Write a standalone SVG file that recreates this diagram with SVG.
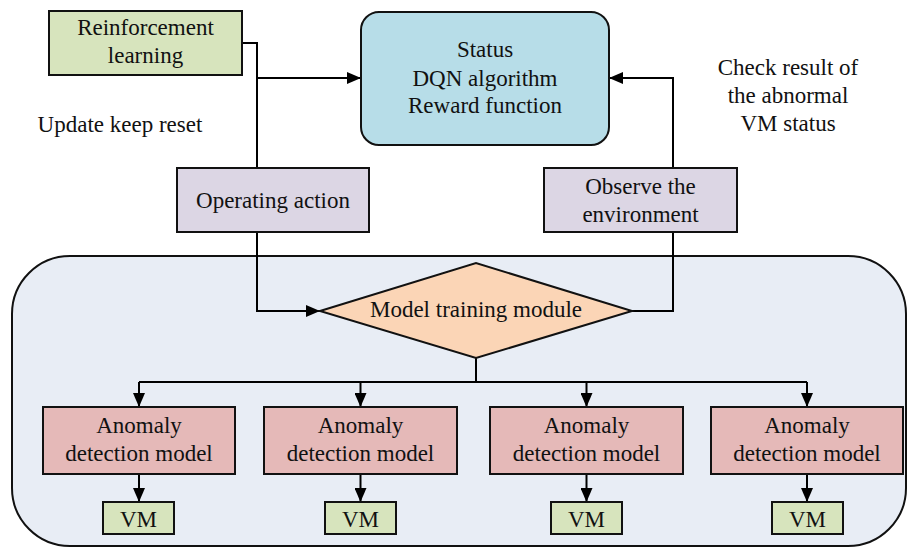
<svg xmlns="http://www.w3.org/2000/svg" width="909" height="548" viewBox="0 0 909 548">
<defs>
<marker id="ah" viewBox="0 0 14 12" refX="14" refY="6" markerWidth="14" markerHeight="12" markerUnits="userSpaceOnUse" orient="auto">
<path d="M0,0 L14,6 L0,12 Z" fill="#000"/>
</marker>
<style>
text{font-family:'Liberation Serif','DejaVu Serif',serif;font-size:23px;fill:#111;text-anchor:middle}
.b{stroke:#111;stroke-width:2}
.c{fill:none;stroke:#000;stroke-width:2}
.a{marker-end:url(#ah)}
.g{fill:#d7e4bd}
.p{fill:#dcd6e4}
.r{fill:#e5b9b8}
</style>
</defs>
<g id="container"><rect x="12" y="256" width="894" height="290" rx="58" ry="58" fill="#e8edf5" class="b"/></g>
<g id="connectors">
<polyline class="c" points="242,43 257,43 257,168"/>
<line class="c a" x1="257" y1="78" x2="361" y2="78"/>
<polyline class="c a" points="257,232 257,311 320,311"/>
<polyline class="c a" points="632,311 673,311 673,78 609,78"/>
<line class="c" x1="476" y1="358" x2="476" y2="383" stroke-width="3"/>
<polyline class="c" points="139,382 807,382"/>
<line class="c a" x1="139" y1="382" x2="139" y2="407"/>
<line class="c a" x1="360.5" y1="382" x2="360.5" y2="407"/>
<line class="c a" x1="586.5" y1="382" x2="586.5" y2="407"/>
<line class="c a" x1="807" y1="382" x2="807" y2="407"/>
<line class="c a" x1="139" y1="474" x2="139" y2="502"/>
<line class="c a" x1="360.5" y1="474" x2="360.5" y2="502"/>
<line class="c a" x1="586.5" y1="474" x2="586.5" y2="502"/>
<line class="c a" x1="807" y1="474" x2="807" y2="502"/>
</g>
<g id="rl"><rect x="49" y="11" width="193" height="64" class="b g"/><text x="145.5" y="35">Reinforcement</text><text x="145.5" y="63">learning</text></g>
<g id="status"><rect x="361" y="12" width="248" height="133" rx="18" ry="18" fill="#b7dde8" class="b"/><text x="485" y="57">Status</text><text x="485" y="86">DQN algorithm</text><text x="485" y="113">Reward function</text></g>
<g id="update-label"><text x="120" y="132">Update keep reset</text></g>
<g id="check-label"><text x="788" y="75">Check result of</text><text x="788" y="103">the abnormal</text><text x="788" y="131">VM status</text></g>
<g id="operating"><rect x="177" y="168" width="192" height="64" class="b p"/><text x="273" y="208">Operating action</text></g>
<g id="observe"><rect x="544" y="168" width="193" height="64" class="b p"/><text x="640.5" y="194">Observe the</text><text x="640.5" y="222">environment</text></g>
<g id="training"><polygon points="320,311 476,263 632,311 476,358" fill="#fbd5b6" class="b"/><text x="476" y="317">Model training module</text></g>
<g id="adm1"><rect x="43" y="407" width="192" height="67" class="b r"/><text x="139" y="433">Anomaly</text><text x="139" y="461">detection model</text></g>
<g id="adm2"><rect x="264" y="407" width="193" height="67" class="b r"/><text x="360.5" y="433">Anomaly</text><text x="360.5" y="461">detection model</text></g>
<g id="adm3"><rect x="490" y="407" width="193" height="67" class="b r"/><text x="586.5" y="433">Anomaly</text><text x="586.5" y="461">detection model</text></g>
<g id="adm4"><rect x="711" y="407" width="192" height="67" class="b r"/><text x="807" y="433">Anomaly</text><text x="807" y="461">detection model</text></g>
<g id="vm1"><rect x="103" y="502" width="71" height="32" class="b g"/><text x="138.5" y="527">VM</text></g>
<g id="vm2"><rect x="325" y="502" width="71" height="32" class="b g"/><text x="360.5" y="527">VM</text></g>
<g id="vm3"><rect x="551" y="502" width="71" height="32" class="b g"/><text x="586.5" y="527">VM</text></g>
<g id="vm4"><rect x="772" y="502" width="71" height="32" class="b g"/><text x="807.5" y="527">VM</text></g>
</svg>
